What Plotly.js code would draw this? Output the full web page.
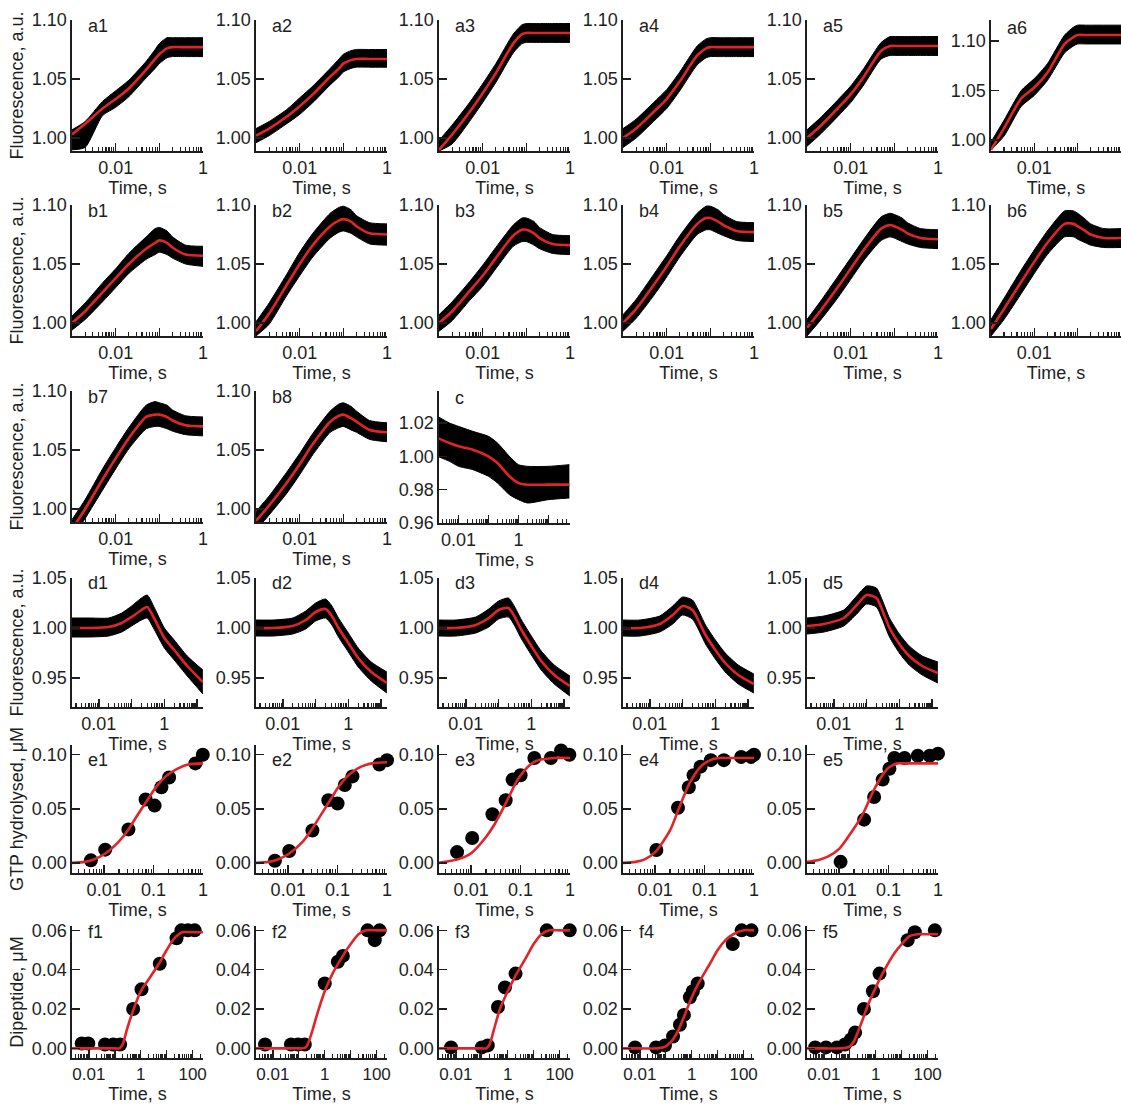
<!DOCTYPE html>
<html><head><meta charset="utf-8">
<script src="https://cdn.plot.ly/plotly-3.0.1.min.js"></script>
<style>html,body{margin:0;padding:0;background:#fff}#chart{width:1121px;height:1105px}</style>
</head><body><div id="chart"></div>
<script>
// ---------- time grids (s) ----------
const tAB = [0.001,0.002,0.005,0.01,0.02,0.05,0.08,0.1,0.15,0.2,0.4,1];
const tC  = [0.002,0.005,0.01,0.03,0.1,0.2,0.5,1,2,10,50];
const tD  = [0.0015,0.005,0.02,0.05,0.1,0.2,0.3,0.5,1,2,5,15];
const tE  = [0.0022,0.004,0.006,0.01,0.02,0.03,0.05,0.08,0.1,0.15,0.2,0.3,0.5,1];
const tF  = [0.002,0.01,0.05,0.1,0.15,0.2,0.3,0.5,1,2,5,10,20,40,100,250];

// ---------- row a: fluorescence (fit, upper/lower noise envelope) ----------
const a1Fit=[1.003,1.012,1.025,1.033,1.042,1.058,1.067,1.071,1.076,1.077,1.077,1.077];
const a1Hi =[1.007,1.014,1.031,1.040,1.049,1.065,1.075,1.080,1.085,1.085,1.085,1.085];
const a1Lo =[0.990,0.992,1.019,1.026,1.035,1.051,1.059,1.063,1.068,1.069,1.069,1.069];
const a2Fit=[1.002,1.008,1.018,1.027,1.037,1.052,1.059,1.063,1.066,1.067,1.067,1.067];
const a2Hi =[1.008,1.014,1.024,1.034,1.044,1.059,1.067,1.071,1.074,1.075,1.075,1.075];
const a2Lo =[0.996,1.002,1.012,1.020,1.030,1.045,1.052,1.056,1.059,1.060,1.060,1.060];
const a3Fit=[0.990,1.003,1.022,1.038,1.055,1.080,1.088,1.089,1.089,1.089,1.089,1.089];
const a3Hi =[0.998,1.011,1.030,1.046,1.063,1.088,1.096,1.097,1.097,1.097,1.097,1.097];
const a3Lo =[0.989,0.995,1.014,1.030,1.047,1.072,1.080,1.081,1.081,1.081,1.081,1.081];
const a4Fit=[1.000,1.008,1.022,1.033,1.048,1.070,1.076,1.077,1.077,1.077,1.077,1.077];
const a4Hi =[1.008,1.016,1.030,1.041,1.056,1.078,1.084,1.085,1.085,1.085,1.085,1.085];
const a4Lo =[0.992,1.000,1.014,1.025,1.040,1.062,1.068,1.069,1.069,1.069,1.069,1.069];
const a5Fit=[1.000,1.010,1.025,1.037,1.052,1.074,1.078,1.078,1.078,1.078,1.078,1.078];
const a5Hi =[1.007,1.017,1.032,1.044,1.059,1.081,1.086,1.086,1.086,1.086,1.086,1.086];
const a5Lo =[0.993,1.003,1.018,1.030,1.045,1.067,1.070,1.070,1.070,1.070,1.070,1.070];
const a6Fit=[0.990,1.012,1.042,1.053,1.068,1.097,1.104,1.106,1.106,1.106,1.106,1.106];
const a6Hi =[0.998,1.020,1.050,1.062,1.077,1.106,1.114,1.116,1.116,1.116,1.116,1.116];
const a6Lo =[0.990,1.004,1.034,1.045,1.060,1.088,1.095,1.097,1.097,1.097,1.097,1.097];

// ---------- rows b ----------
const b1Fit=[1.000,1.010,1.026,1.038,1.050,1.063,1.068,1.070,1.068,1.064,1.058,1.057];
const b1Hi =[1.006,1.017,1.034,1.046,1.059,1.073,1.080,1.081,1.078,1.073,1.066,1.065];
const b1Lo =[0.994,1.003,1.018,1.030,1.042,1.054,1.058,1.060,1.058,1.055,1.050,1.048];
const b2Fit=[0.993,1.008,1.032,1.050,1.066,1.082,1.087,1.088,1.086,1.082,1.076,1.075];
const b2Hi =[1.001,1.017,1.041,1.060,1.076,1.093,1.098,1.099,1.096,1.091,1.085,1.084];
const b2Lo =[0.989,0.999,1.023,1.040,1.056,1.072,1.077,1.078,1.076,1.073,1.067,1.066];
const b3Fit=[1.000,1.010,1.027,1.040,1.055,1.074,1.079,1.079,1.076,1.072,1.067,1.066];
const b3Hi =[1.007,1.018,1.035,1.049,1.064,1.083,1.089,1.089,1.086,1.081,1.075,1.074];
const b3Lo =[0.993,1.002,1.019,1.031,1.046,1.065,1.069,1.069,1.066,1.063,1.059,1.058];
const b4Fit=[1.000,1.012,1.032,1.048,1.065,1.084,1.089,1.089,1.086,1.083,1.078,1.077];
const b4Hi =[1.007,1.020,1.041,1.057,1.074,1.093,1.099,1.099,1.096,1.092,1.086,1.085];
const b4Lo =[0.993,1.004,1.023,1.039,1.056,1.075,1.079,1.079,1.076,1.074,1.070,1.069];
const b5Fit=[0.996,1.010,1.030,1.046,1.062,1.080,1.083,1.082,1.079,1.076,1.072,1.071];
const b5Hi =[1.003,1.018,1.039,1.055,1.071,1.090,1.093,1.092,1.089,1.085,1.080,1.079];
const b5Lo =[0.989,1.002,1.021,1.037,1.053,1.070,1.073,1.072,1.069,1.067,1.064,1.063];
const b6Fit=[0.995,1.012,1.035,1.052,1.068,1.084,1.084,1.082,1.078,1.075,1.072,1.072];
const b6Hi =[1.003,1.021,1.045,1.062,1.078,1.095,1.095,1.093,1.088,1.084,1.080,1.080];
const b6Lo =[0.989,1.003,1.025,1.042,1.058,1.073,1.073,1.071,1.068,1.066,1.064,1.064];
const b7Fit=[0.983,1.000,1.025,1.043,1.060,1.078,1.080,1.080,1.078,1.075,1.071,1.070];
const b7Hi =[0.991,1.008,1.034,1.052,1.069,1.088,1.091,1.090,1.088,1.084,1.079,1.078];
const b7Lo =[0.975,0.992,1.016,1.034,1.051,1.068,1.070,1.070,1.068,1.066,1.063,1.062];
const b8Fit=[0.990,1.003,1.022,1.038,1.055,1.074,1.079,1.080,1.077,1.074,1.067,1.065];
const b8Hi =[0.998,1.011,1.031,1.047,1.064,1.083,1.089,1.090,1.087,1.083,1.075,1.073];
const b8Lo =[0.982,0.995,1.013,1.029,1.046,1.065,1.069,1.070,1.067,1.065,1.059,1.057];

// ---------- c ----------
const cFit=[1.011,1.008,1.006,1.004,1.000,0.996,0.988,0.984,0.983,0.983,0.983];
const cHi =[1.024,1.020,1.018,1.015,1.012,1.008,1.000,0.995,0.994,0.994,0.995];
const cLo =[1.000,0.997,0.994,0.992,0.988,0.984,0.977,0.974,0.972,0.974,0.975];

// ---------- row d ----------
const d1Fit=[1.000,1.000,1.001,1.005,1.011,1.018,1.021,1.009,0.990,0.978,0.962,0.946];
const d1Hi =[1.010,1.010,1.010,1.015,1.022,1.030,1.033,1.020,1.000,0.988,0.972,0.958];
const d1Lo =[0.991,0.991,0.992,0.996,1.002,1.008,1.010,0.998,0.980,0.968,0.952,0.934];
const d2Fit=[1.000,1.000,1.002,1.008,1.016,1.019,1.013,1.000,0.985,0.970,0.956,0.945];
const d2Hi =[1.008,1.008,1.010,1.017,1.025,1.029,1.023,1.010,0.995,0.980,0.966,0.956];
const d2Lo =[0.992,0.992,0.994,0.999,1.007,1.010,1.004,0.991,0.976,0.961,0.947,0.935];
const d3Fit=[1.000,1.000,1.003,1.010,1.018,1.020,1.012,0.998,0.982,0.967,0.953,0.942];
const d3Hi =[1.008,1.008,1.011,1.019,1.027,1.030,1.022,1.008,0.992,0.977,0.963,0.952];
const d3Lo =[0.992,0.992,0.995,1.001,1.009,1.011,1.003,0.989,0.973,0.958,0.944,0.932];
const d4Fit=[1.000,1.000,1.004,1.013,1.022,1.018,1.008,0.993,0.978,0.965,0.953,0.944];
const d4Hi =[1.008,1.008,1.012,1.022,1.031,1.028,1.018,1.003,0.988,0.975,0.963,0.954];
const d4Lo =[0.992,0.992,0.996,1.004,1.013,1.009,0.999,0.984,0.969,0.956,0.944,0.935];
const d5Fit=[1.002,1.004,1.010,1.023,1.033,1.030,1.018,1.000,0.984,0.972,0.962,0.955];
const d5Hi =[1.010,1.012,1.018,1.032,1.042,1.040,1.028,1.010,0.994,0.982,0.972,0.966];
const d5Lo =[0.994,0.996,1.002,1.014,1.024,1.021,1.009,0.991,0.975,0.963,0.953,0.945];

// ---------- row e: GTP hydrolysed (µM) ----------
const e1Fit=[0.000,0.001,0.003,0.008,0.020,0.030,0.046,0.060,0.067,0.077,0.082,0.087,0.091,0.092];
const e2Fit=[0.000,0.001,0.003,0.008,0.020,0.031,0.047,0.062,0.069,0.079,0.084,0.089,0.092,0.093];
const e3Fit=[0.000,0.002,0.004,0.009,0.024,0.036,0.055,0.074,0.081,0.090,0.094,0.096,0.097,0.097];
const e4Fit=[0.000,0.001,0.003,0.010,0.030,0.050,0.074,0.088,0.092,0.096,0.097,0.097,0.097,0.097];
const e5Fit=[0.001,0.003,0.006,0.013,0.032,0.045,0.067,0.083,0.088,0.092,0.092,0.092,0.092,0.092];
const e1T=[0.0054,0.0105,0.031,0.069,0.105,0.144,0.206,0.70,0.99];
const e1V=[0.0024,0.0123,0.031,0.0586,0.053,0.070,0.079,0.092,0.100];
const e2T=[0.0054,0.0105,0.031,0.065,0.1,0.14,0.2,0.7,1.0];
const e2V=[0.002,0.011,0.030,0.058,0.055,0.072,0.080,0.091,0.095];
const e3T=[0.0052,0.0105,0.027,0.05,0.069,0.10,0.19,0.41,0.66,0.97];
const e3V=[0.010,0.023,0.045,0.058,0.077,0.081,0.097,0.097,0.104,0.100];
const e4T=[0.0106,0.029,0.048,0.06,0.083,0.134,0.246,0.55,0.87,1.0];
const e4V=[0.012,0.051,0.070,0.081,0.089,0.095,0.095,0.098,0.098,0.100];
const e5T=[0.0107,0.032,0.051,0.076,0.104,0.131,0.21,0.39,0.68,1.0];
const e5V=[0.001,0.040,0.061,0.077,0.087,0.097,0.097,0.099,0.099,0.101];

// ---------- row f: dipeptide (µM) ----------
const f1Fit=[0,0,0,0,0,0.002,0.010,0.019,0.029,0.035,0.043,0.050,0.056,0.059,0.059,0.059];
const f2Fit=[0,0,0,0,0,0.001,0.007,0.017,0.029,0.038,0.047,0.053,0.058,0.060,0.060,0.060];
const f3Fit=[0,0,0,0,0,0.002,0.010,0.020,0.029,0.037,0.046,0.053,0.058,0.060,0.060,0.060];
const f4Fit=[0,0,0,0.001,0.003,0.005,0.009,0.016,0.026,0.034,0.043,0.050,0.055,0.058,0.060,0.060];
const f5Fit=[0,0,0,0.001,0.004,0.008,0.014,0.022,0.031,0.039,0.048,0.053,0.057,0.058,0.058,0.058];
const f1T=[0.0053,0.0095,0.042,0.087,0.16,0.51,1.07,5.4,24,37,66,120];
const f1V=[0.0025,0.0025,0.002,0.002,0.002,0.020,0.030,0.043,0.056,0.060,0.060,0.060];
const f2T=[0.005,0.05,0.093,0.17,1.0,3.2,5,45,85,130];
const f2V=[0.002,0.002,0.002,0.002,0.033,0.044,0.047,0.060,0.055,0.060];
const f3T=[0.0065,0.1,0.17,0.42,0.78,2.0,32,245];
const f3V=[0.0005,0.0005,0.0015,0.021,0.031,0.038,0.060,0.060];
const f4T=[0.0065,0.042,0.093,0.19,0.35,0.5,0.85,1.1,1.7,38,84,200];
const f4V=[0.0005,0.0005,0.0015,0.006,0.012,0.017,0.026,0.029,0.033,0.053,0.060,0.060];
const f5T=[0.0046,0.012,0.032,0.065,0.11,0.16,0.35,0.78,1.4,17,32,190];
const f5V=[0.0005,0.0005,0.0005,0.002,0.0045,0.008,0.020,0.029,0.038,0.055,0.059,0.060];

// ---------- tick labels ----------
const yTickAB=[1.00,1.05,1.10], yTextAB=['1.00','1.05','1.10'];
const yTickC=[0.96,0.98,1.00,1.02], yTextC=['0.96','0.98','1.00','1.02'];
const yTickD=[0.95,1.00,1.05], yTextD=['0.95','1.00','1.05'];
const yTickE=[0,0.05,0.10], yTextE=['0.00','0.05','0.10'];
const yTickF=[0,0.02,0.04,0.06], yTextF=['0.00','0.02','0.04','0.06'];
const xTickAB=[0.001,0.01,0.1,1], xTextAB=['','0.01','','1'];
const xTickC=[0.01,0.1,1,10], xTextC=['0.01','','1',''];
const xTickD=[0.01,0.1,1,10], xTextD=['0.01','','1',''];
const xTickE=[0.01,0.1,1], xTextE=['0.01','0.1','1'];
const xTickF=[0.01,0.1,1,10,100], xTextF=['0.01','','1','','100'];
const minorAB=[0.002,0.003,0.004,0.005,0.006,0.007,0.008,0.009,0.02,0.03,0.04,0.05,0.06,0.07,0.08,0.09,0.2,0.3,0.4,0.5,0.6,0.7,0.8,0.9];
const minorC=[0.003,0.004,0.005,0.006,0.007,0.008,0.009,0.02,0.03,0.04,0.05,0.06,0.07,0.08,0.09,0.2,0.3,0.4,0.5,0.6,0.7,0.8,0.9,2,3,4,5,6,7,8,9,20,30,40,50];
const minorD=[0.002,0.003,0.004,0.005,0.006,0.007,0.008,0.009,0.02,0.03,0.04,0.05,0.06,0.07,0.08,0.09,0.2,0.3,0.4,0.5,0.6,0.7,0.8,0.9,2,3,4,5,6,7,8,9];
const minorE=[0.003,0.004,0.005,0.006,0.007,0.008,0.009,0.02,0.03,0.04,0.05,0.06,0.07,0.08,0.09,0.2,0.3,0.4,0.5,0.6,0.7,0.8,0.9];
const minorF=[0.003,0.004,0.005,0.006,0.007,0.008,0.009,0.02,0.03,0.04,0.05,0.06,0.07,0.08,0.09,0.2,0.3,0.4,0.5,0.6,0.7,0.8,0.9,2,3,4,5,6,7,8,9,20,30,40,50,60,70,80,90,200];

const yTitleFluo='Fluorescence, a.u.';
const yTitleGTP='GTP hydrolysed, μM';
const yTitleDip='Dipeptide, μM';
const xTitle='Time, s';

// ---------- layout geometry (pixels) ----------
const W=1121, H=1105, FONT='"Liberation Sans", Arial, sans-serif', INK='#1e1e1e', RED='#e0242a';
const colX=[72,256,439,623,807,991];
const plotW=131;
const rows={
  a:{top:20,bottom:151,yr:[0.989,1.10],ytv:yTickAB,ytt:yTextAB,xr:[-3,0],xtv:xTickAB,xtt:xTextAB,xmin:minorAB,labY:26,yt:yTitleFluo,xf:18},
  b:{top:205,bottom:336,yr:[0.989,1.10],ytv:yTickAB,ytt:yTextAB,xr:[-3,0],xtv:xTickAB,xtt:xTextAB,xmin:minorAB,labY:211,yt:yTitleFluo,xf:18},
  b2:{top:391,bottom:522,yr:[0.989,1.10],ytv:yTickAB,ytt:yTextAB,xr:[-3,0],xtv:xTickAB,xtt:xTextAB,xmin:minorAB,labY:397,yt:yTitleFluo,xf:18},
  c:{top:391,bottom:523,yr:[0.96,1.0392],ytv:yTickC,ytt:yTextC,xr:[-2.65,1.72],xtv:xTickC,xtt:xTextC,xmin:minorC,labY:398,yt:yTitleFluo,xf:18},
  d:{top:578,bottom:707,yr:[0.921,1.05],ytv:yTickD,ytt:yTextD,xr:[-2.82,1.18],xtv:xTickD,xtt:xTextD,xmin:minorD,labY:583,yt:yTitleFluo,xf:18},
  e:{top:745,bottom:873,yr:[-0.0093,0.109],ytv:yTickE,ytt:yTextE,xr:[-2.65,0],xtv:xTickE,xtt:xTextE,xmin:minorE,labY:760,yt:yTitleGTP,xf:18},
  f:{top:926,bottom:1058,yr:[-0.0049,0.0622],ytv:yTickF,ytt:yTextF,xr:[-2.65,2.4],xtv:xTickF,xtt:xTextF,xmin:minorF,labY:932,yt:yTitleDip,xf:17}
};

const panels=[
  {id:'a1',row:'a',col:0,t:tAB,fit:a1Fit,hi:a1Hi,lo:a1Lo},
  {id:'a2',row:'a',col:1,t:tAB,fit:a2Fit,hi:a2Hi,lo:a2Lo},
  {id:'a3',row:'a',col:2,t:tAB,fit:a3Fit,hi:a3Hi,lo:a3Lo},
  {id:'a4',row:'a',col:3,t:tAB,fit:a4Fit,hi:a4Hi,lo:a4Lo},
  {id:'a5',row:'a',col:4,t:tAB,fit:a5Fit,hi:a5Hi,lo:a5Lo},
  {id:'a6',row:'a',col:5,t:tAB,fit:a6Fit,hi:a6Hi,lo:a6Lo,yr:[0.9889,1.1212],labY:28},
  {id:'b1',row:'b',col:0,t:tAB,fit:b1Fit,hi:b1Hi,lo:b1Lo},
  {id:'b2',row:'b',col:1,t:tAB,fit:b2Fit,hi:b2Hi,lo:b2Lo},
  {id:'b3',row:'b',col:2,t:tAB,fit:b3Fit,hi:b3Hi,lo:b3Lo},
  {id:'b4',row:'b',col:3,t:tAB,fit:b4Fit,hi:b4Hi,lo:b4Lo},
  {id:'b5',row:'b',col:4,t:tAB,fit:b5Fit,hi:b5Hi,lo:b5Lo},
  {id:'b6',row:'b',col:5,t:tAB,fit:b6Fit,hi:b6Hi,lo:b6Lo},
  {id:'b7',row:'b2',col:0,t:tAB,fit:b7Fit,hi:b7Hi,lo:b7Lo},
  {id:'b8',row:'b2',col:1,t:tAB,fit:b8Fit,hi:b8Hi,lo:b8Lo},
  {id:'c',row:'c',col:2,t:tC,fit:cFit,hi:cHi,lo:cLo},
  {id:'d1',row:'d',col:0,t:tD,fit:d1Fit,hi:d1Hi,lo:d1Lo},
  {id:'d2',row:'d',col:1,t:tD,fit:d2Fit,hi:d2Hi,lo:d2Lo},
  {id:'d3',row:'d',col:2,t:tD,fit:d3Fit,hi:d3Hi,lo:d3Lo},
  {id:'d4',row:'d',col:3,t:tD,fit:d4Fit,hi:d4Hi,lo:d4Lo},
  {id:'d5',row:'d',col:4,t:tD,fit:d5Fit,hi:d5Hi,lo:d5Lo},
  {id:'e1',row:'e',col:0,t:tE,fit:e1Fit,pt:e1T,pv:e1V},
  {id:'e2',row:'e',col:1,t:tE,fit:e2Fit,pt:e2T,pv:e2V},
  {id:'e3',row:'e',col:2,t:tE,fit:e3Fit,pt:e3T,pv:e3V},
  {id:'e4',row:'e',col:3,t:tE,fit:e4Fit,pt:e4T,pv:e4V},
  {id:'e5',row:'e',col:4,t:tE,fit:e5Fit,pt:e5T,pv:e5V},
  {id:'f1',row:'f',col:0,t:tF,fit:f1Fit,pt:f1T,pv:f1V},
  {id:'f2',row:'f',col:1,t:tF,fit:f2Fit,pt:f2T,pv:f2V},
  {id:'f3',row:'f',col:2,t:tF,fit:f3Fit,pt:f3T,pv:f3V},
  {id:'f4',row:'f',col:3,t:tF,fit:f4Fit,pt:f4T,pv:f4V},
  {id:'f5',row:'f',col:4,t:tF,fit:f5Fit,pt:f5T,pv:f5V}
];

const traces=[], annotations=[];
const layout={width:W,height:H,margin:{l:0,r:0,t:0,b:0},showlegend:false,
  paper_bgcolor:'#fff',plot_bgcolor:'rgba(0,0,0,0)',font:{family:FONT,color:INK,size:18}};

panels.forEach((p,i)=>{
  const n=i+1, g=rows[p.row];
  const xk=n===1?'x':'x'+n, yk=n===1?'y':'y'+n;
  const x0=colX[p.col], w=Math.min(plotW, W-x0);
  layout[n===1?'xaxis':'xaxis'+n]={
    domain:[x0/W,(x0+w)/W], type:'log', range:g.xr, anchor:yk,
    tickmode:'array', tickvals:g.xtv, ticktext:g.xtt,
    ticks:'inside', ticklen:8, tickwidth:1.4, tickcolor:INK,
    minor:{tickmode:'array', tickvals:g.xmin, ticks:'inside', ticklen:4.5, tickwidth:1.2, tickcolor:INK, showgrid:false},
    showline:true, linecolor:INK, linewidth:1.6, showgrid:false, zeroline:false,
    tickfont:{size:g.xf,color:INK,family:FONT},
    title:{text:xTitle, font:{size:18,color:INK,family:FONT}, standoff:0},
    fixedrange:true
  };
  const ya={
    domain:[1-g.bottom/H,1-g.top/H], range:p.yr||g.yr, anchor:xk,
    tickmode:'array', tickvals:g.ytv, ticktext:g.ytt,
    ticks:'inside', ticklen:8, tickwidth:1.4, tickcolor:INK,
    showline:true, linecolor:INK, linewidth:1.6, showgrid:false, zeroline:false,
    tickfont:{size:18,color:INK,family:FONT}, fixedrange:true
  };
  if(p.col===0) ya.title={text:g.yt, font:{size:18,color:INK,family:FONT}, standoff:3};
  layout[n===1?'yaxis':'yaxis'+n]=ya;

  if(p.hi){
    traces.push({x:p.t,y:p.lo,xaxis:xk,yaxis:yk,mode:'lines',line:{color:'#000',width:1,shape:'spline',smoothing:0.6},hoverinfo:'skip'});
    traces.push({x:p.t,y:p.hi,xaxis:xk,yaxis:yk,mode:'lines',fill:'tonexty',fillcolor:'#000',line:{color:'#000',width:1,shape:'spline',smoothing:0.6},hoverinfo:'skip'});
  }
  if(p.pt){
    traces.push({x:p.pt,y:p.pv,xaxis:xk,yaxis:yk,mode:'markers',cliponaxis:false,marker:{size:14,color:'#000'}});
  }
  traces.push({x:p.t,y:p.fit,xaxis:xk,yaxis:yk,mode:'lines',line:{color:RED,width:2.6,shape:'spline',smoothing:0.7}});

  annotations.push({text:p.id, xref:'paper', yref:'paper', x:(x0+14)/W, y:1-(p.labY||g.labY)/H,
    xanchor:'left', yanchor:'middle', showarrow:false, font:{size:18,color:INK,family:FONT}});
});
layout.annotations=annotations;
Plotly.newPlot('chart',traces,layout,{staticPlot:true,displayModeBar:false});
</script>
</body></html>
